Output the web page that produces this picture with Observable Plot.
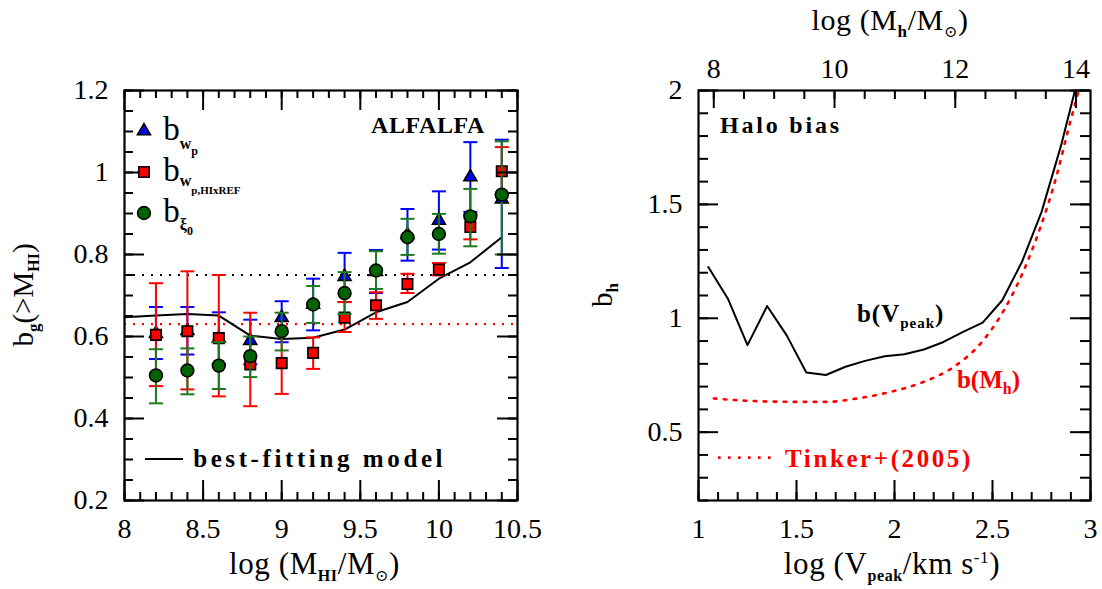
<!DOCTYPE html>
<html>
<head>
<meta charset="utf-8">
<script src="https://cdn.jsdelivr.net/npm/d3@7"></script>
<script src="https://cdn.jsdelivr.net/npm/@observablehq/plot@0.6"></script>
<style>
  body { margin: 0; background: #fff; }
  #wrap { position: relative; width: 1102px; height: 589px; overflow: hidden; }
  #left, #right { position: absolute; top: 0; }
  #left { left: 0; }
  #right { left: 551px; }
</style>
</head>
<body>
<div id="wrap"><div id="left"></div><div id="right"></div></div>
<script>
// ---------------- data: left panel ----------------
const logMHI = [8.2, 8.4, 8.6, 8.8, 9.0, 9.2, 9.4, 9.6, 9.8, 10.0, 10.2, 10.4];

const bWp    = [0.607, 0.614, 0.596, 0.590, 0.646, 0.678, 0.746, 0.758, 0.848, 0.883, 0.989, 0.935];
const bWpLo  = [0.545, 0.556, 0.533, 0.532, 0.586, 0.615, 0.684, 0.706, 0.785, 0.812, 0.904, 0.767];
const bWpHi  = [0.672, 0.672, 0.659, 0.641, 0.686, 0.741, 0.804, 0.811, 0.911, 0.954, 1.074, 1.080];

const bRef   = [0.604, 0.613, 0.596, 0.532, 0.535, 0.560, 0.646, 0.676, 0.728, 0.763, 0.867, 1.003];
const bRefLo = [0.479, 0.471, 0.454, 0.430, 0.460, 0.521, 0.611, 0.643, 0.706, 0.749, 0.837, 0.944];
const bRefHi = [0.730, 0.759, 0.750, 0.658, 0.610, 0.598, 0.684, 0.708, 0.753, 0.779, 0.897, 1.062];

const bXi    = [0.505, 0.517, 0.529, 0.552, 0.613, 0.678, 0.706, 0.761, 0.842, 0.850, 0.893, 0.946];
const bXiLo  = [0.437, 0.459, 0.472, 0.501, 0.566, 0.633, 0.655, 0.716, 0.799, 0.802, 0.820, 0.800];
const bXiHi  = [0.569, 0.571, 0.586, 0.600, 0.658, 0.723, 0.757, 0.808, 0.887, 0.899, 0.960, 1.076];

const fitX = [8.0, 8.2, 8.4, 8.6, 8.8, 9.0, 9.2, 9.4, 9.6, 9.8, 10.0, 10.2, 10.4];
const fitY = [0.647, 0.651, 0.655, 0.651, 0.602, 0.594, 0.597, 0.617, 0.659, 0.684, 0.741, 0.781, 0.842];

const refLevels = [0.75, 0.63]; // black dotted, red dotted

const leftXTicks = [8, 8.5, 9, 9.5, 10, 10.5];
const leftYTicks = [0.2, 0.4, 0.6, 0.8, 1, 1.2];

// ---------------- data: right panel ----------------
const vPeakX = [1.05, 1.15, 1.25, 1.35, 1.45, 1.55, 1.65, 1.75, 1.85, 1.95, 2.05, 2.15, 2.25, 2.35, 2.45, 2.55, 2.65, 2.75, 2.85, 2.95];
const vPeakB = [1.225, 1.086, 0.882, 1.054, 0.925, 0.762, 0.751, 0.787, 0.813, 0.833, 0.842, 0.863, 0.896, 0.940, 0.981, 1.079, 1.247, 1.466, 1.759, 2.100];

const tinkerX = [1.078, 1.299, 1.520, 1.656, 1.810, 1.980, 2.150, 2.303, 2.439, 2.558, 2.660, 2.745, 2.830, 2.881, 2.940];
const tinkerB = [0.648, 0.636, 0.633, 0.633, 0.648, 0.677, 0.721, 0.787, 0.889, 1.035, 1.211, 1.401, 1.635, 1.810, 2.000];

const rightXTicks = [1, 1.5, 2, 2.5, 3];
const rightYTicks = [0.5, 1, 1.5, 2];
const topMhTicks = [8, 10, 12, 14];
// where log(Mh)=8 and 14 sit on the log(Vpeak) axis
const topAxisMh = [8, 14];
const topAxisV  = [1.078, 2.926];

// ---------------- style ----------------
const FONT = "'Liberation Serif', 'DejaVu Serif', serif";
const BLUE = "#0000ff", RED = "#ff0000", GREEN_FILL = "#006400", GREEN_BAR = "#1d7a1d";
const W = 551, H = 589;
const TICKFONT = 28;
const capSymbol = { draw(ctx, size) { const w = Math.sqrt(size / Math.PI); ctx.moveTo(-w, 0); ctx.lineTo(w, 0); } };

function rng(a, b, s) { const out = []; for (let i = 0; a + i * s <= b + 1e-9; i++) out.push(+(a + i * s).toFixed(4)); return out; }

// inward ticks on a box; lengths are in pixels, converted to data units
function boxTicks(xDom, yDom, iw, ih, xMinor, xMajor, yMinor, yMajor, lens, opts = {}) {
  const [xs, xl, ys, yl] = lens;
  const dyPx = (yDom[1] - yDom[0]) / ih, dxPx = (xDom[1] - xDom[0]) / iw;
  const sw = 2;
  const m = [];
  const bottom = (vals, len) => Plot.ruleX(vals, {x: d => d, y1: yDom[0], y2: yDom[0] + len * dyPx, strokeWidth: sw});
  const top = (vals, len) => Plot.ruleX(vals, {x: d => d, y1: yDom[1], y2: yDom[1] - len * dyPx, strokeWidth: sw});
  const left = (vals, len) => Plot.ruleY(vals, {y: d => d, x1: xDom[0], x2: xDom[0] + len * dxPx, strokeWidth: sw});
  const right = (vals, len) => Plot.ruleY(vals, {y: d => d, x1: xDom[1], x2: xDom[1] - len * dxPx, strokeWidth: sw});
  m.push(bottom(xMinor, xs), bottom(xMajor, xl));
  if (!opts.noTop) m.push(top(xMinor, xs), top(xMajor, xl));
  m.push(left(yMinor, ys), left(yMajor, yl), right(yMinor, ys), right(yMajor, yl));
  if (opts.topMinor) m.push(top(opts.topMinor, opts.topLens[0]), top(opts.topMajor, opts.topLens[1]));
  return m;
}

function richText(svg, x, y, parts, opt = {}) {
  const {size = 26, anchor = "start", fill = "black", rotate = 0, weight = "normal", spacing = 0} = opt;
  const t = d3.select(svg).append("text")
    .attr("transform", `translate(${x},${y})` + (rotate ? ` rotate(${rotate})` : ""))
    .attr("text-anchor", anchor).attr("fill", fill)
    .attr("font-family", FONT).attr("font-size", size).attr("font-weight", weight)
    .attr("letter-spacing", spacing);
  let cur = 0;
  for (const p of parts) {
    const s = t.append("tspan").text(p.t);
    const sh = p.shift || 0;
    if (sh !== cur) { s.attr("dy", sh - cur); cur = sh; }
    if (p.size) s.attr("font-size", p.size);
    if (p.weight) s.attr("font-weight", p.weight);
    if (p.spacing !== undefined) s.attr("letter-spacing", p.spacing);
  }
  return t;
}

function linScale(plot, name) {
  const s = plot.scale(name);
  return d3.scaleLinear().domain(s.domain).range(s.range);
}

// ---------------- left panel ----------------
const rows = logMHI.map((m, i) => ({m, wp: bWp[i], wpLo: bWpLo[i], wpHi: bWpHi[i],
  ref: bRef[i], refLo: bRefLo[i], refHi: bRefHi[i], xi: bXi[i], xiLo: bXiLo[i], xiHi: bXiHi[i]}));
const fit = fitX.map((x, i) => ({x, y: fitY[i]}));

const LM = {top: 90, right: 34, bottom: 89, left: 124};
const liw = W - LM.left - LM.right, lih = H - LM.top - LM.bottom;
const LX = [8, 10.5], LY = [0.2, 1.2];

function errMarks(key, color, symbol, r, fill) {
  return [
    Plot.ruleX(rows, {x: "m", y1: key + "Lo", y2: key + "Hi", stroke: color, strokeWidth: 2}),
    Plot.dot(rows, {x: "m", y: key + "Lo", symbol: capSymbol, r: 7, stroke: color, fill: "none", strokeWidth: 2}),
    Plot.dot(rows, {x: "m", y: key + "Hi", symbol: capSymbol, r: 7, stroke: color, fill: "none", strokeWidth: 2}),
    Plot.dot(rows, {x: "m", y: key, symbol, r, fill, stroke: "black", strokeWidth: 1.6})
  ];
}

const leftPlot = Plot.plot({
  width: W, height: H,
  marginTop: LM.top, marginRight: LM.right, marginBottom: LM.bottom, marginLeft: LM.left,
  x: {domain: LX},
  y: {domain: LY},
  style: {fontFamily: FONT, fontSize: "26px", background: "white", color: "black", overflow: "visible"},
  marks: [
    Plot.ruleY([refLevels[0]], {y: d => d, stroke: "black", strokeWidth: 2.2, strokeDasharray: "2,7"}),
    Plot.ruleY([refLevels[1]], {y: d => d, stroke: RED, strokeWidth: 2.2, strokeDasharray: "2,7"}),
    Plot.line(fit, {x: "x", y: "y", stroke: "black", strokeWidth: 2}),
    ...errMarks("wp", BLUE, "triangle", 4.8, BLUE),
    ...errMarks("ref", RED, "square", 5.9, RED),
    ...errMarks("xi", GREEN_BAR, "circle", 6.4, GREEN_FILL),
    ...boxTicks(LX, LY, liw, lih, rng(8, 10.5, 0.1), leftXTicks, rng(0.2, 1.2, 0.05), leftYTicks, [8, 20, 9, 20]),
    Plot.frame({stroke: "black", strokeWidth: 2.2}),
    Plot.axisX({ticks: leftXTicks, tickSize: 0, tickPadding: 18, fontSize: TICKFONT, label: null, tickFormat: d => String(d)}),
    Plot.axisY({ticks: leftYTicks, tickSize: 0, tickPadding: 16, fontSize: TICKFONT, label: null, tickFormat: d => String(d)})
  ]
});
document.getElementById("left").appendChild(leftPlot);

{
  const sx = linScale(leftPlot, "x"), sy = linScale(leftPlot, "y");
  const svg = leftPlot;
  // axis labels
  richText(svg, LM.left + liw / 2 - 6, 574, [
    {t: "log (M"}, {t: "HI", shift: 7, size: 16, weight: "bold"}, {t: "/M", shift: 0}, {t: "⊙", shift: 7, size: 16}, {t: ")", shift: 0}
  ], {anchor: "middle", size: 31, spacing: 0.6});
  richText(svg, 33, LM.top + lih / 2, [
    {t: "b"}, {t: "g", shift: 6, size: 17, weight: "bold"}, {t: "(>M", shift: 0}, {t: "HI", shift: 6, size: 16, weight: "bold"}, {t: ")", shift: 0}
  ], {anchor: "middle", size: 29, rotate: -90});
  // ALFALFA
  richText(svg, sx(10.296), sy(1.095), [{t: "ALFALFA"}], {anchor: "end", size: 24, weight: "bold", spacing: 0.6});
  // legend
  const lx = sx(8.127), tx = sx(8.25);
  const g = d3.select(svg).append("g");
  const legendRows = [
    {y: 1.1, sym: d3.symbolTriangle, r: 4.8, fill: BLUE,
     parts: [{t: "b"}, {t: "w", shift: 9, size: 16, weight: "bold"}, {t: "p", shift: 15, size: 12, weight: "bold"}]},
    {y: 1.0, sym: d3.symbolSquare, r: 5.9, fill: RED,
     parts: [{t: "b"}, {t: "w", shift: 5, size: 16, weight: "bold"}, {t: "p,HIxREF", shift: 13, size: 11, weight: "bold"}]},
    {y: 0.9, sym: d3.symbolCircle, r: 6.4, fill: GREEN_FILL,
     parts: [{t: "b"}, {t: "ξ", shift: 8, size: 16, weight: "bold"}, {t: "0", shift: 13, size: 12, weight: "bold"}]}
  ];
  for (const row of legendRows) {
    g.append("path").attr("d", d3.symbol(row.sym, Math.PI * row.r * row.r)())
      .attr("transform", `translate(${lx},${sy(row.y)})`)
      .attr("fill", row.fill).attr("stroke", "black").attr("stroke-width", 1.6);
    richText(svg, tx, sy(row.y) + 9, row.parts, {size: 33});
  }
  // best-fitting model legend
  g.append("line").attr("x1", sx(8.134)).attr("x2", sx(8.375)).attr("y1", sy(0.3)).attr("y2", sy(0.3))
    .attr("stroke", "black").attr("stroke-width", 2);
  richText(svg, sx(8.44), sy(0.3) + 8, [{t: "best-fitting model"}], {size: 25, weight: "bold", spacing: 3.6});
}

// ---------------- right panel ----------------
const vpeak = vPeakX.map((x, i) => ({x, y: vPeakB[i]}));
const tinker = tinkerX.map((x, i) => ({x, y: tinkerB[i]}));
const mhToV = m => topAxisV[0] + (m - topAxisMh[0]) * (topAxisV[1] - topAxisV[0]) / (topAxisMh[1] - topAxisMh[0]);
const vToMh = v => topAxisMh[0] + (v - topAxisV[0]) * (topAxisMh[1] - topAxisMh[0]) / (topAxisV[1] - topAxisV[0]);

const RM = {top: 90, right: 12, bottom: 89, left: 147};
const riw = W - RM.left - RM.right, rih = H - RM.top - RM.bottom;
const RX = [1, 3], RY = [0.2, 2];

const rightPlot = Plot.plot({
  width: W, height: H,
  marginTop: RM.top, marginRight: RM.right, marginBottom: RM.bottom, marginLeft: RM.left,
  x: {domain: RX},
  y: {domain: RY},
  style: {fontFamily: FONT, fontSize: "26px", background: "white", color: "black", overflow: "visible"},
  marks: [
    Plot.line(tinker, {x: "x", y: "y", stroke: RED, strokeWidth: 2.6, strokeDasharray: "2.6,7.4", curve: "monotone-x", clip: true}),
    Plot.line(vpeak, {x: "x", y: "y", stroke: "black", strokeWidth: 2, clip: true}),
    ...boxTicks(RX, RY, riw, rih, rng(1, 3, 0.1), rightXTicks, rng(0.2, 2, 0.1), rightYTicks, [8, 20, 10, 20],
      {noTop: true, topMinor: rng(8, 14, 0.5).map(mhToV), topMajor: topMhTicks.map(mhToV), topLens: [9, 18]}),
    Plot.frame({stroke: "black", strokeWidth: 2.2}),
    Plot.axisX({ticks: rightXTicks, tickSize: 0, tickPadding: 18, fontSize: TICKFONT, label: null, tickFormat: d => String(d)}),
    Plot.axisX({anchor: "top", ticks: topMhTicks.map(mhToV), tickSize: 0, tickPadding: 13, fontSize: TICKFONT, label: null,
      tickFormat: d => String(Math.round(vToMh(d)))}),
    Plot.axisY({ticks: rightYTicks, tickSize: 0, tickPadding: 16, fontSize: TICKFONT, label: null, tickFormat: d => String(d)})
  ]
});
document.getElementById("right").appendChild(rightPlot);

{
  const sx = linScale(rightPlot, "x"), sy = linScale(rightPlot, "y");
  const svg = rightPlot;
  richText(svg, RM.left + riw / 2 - 2, 574, [
    {t: "log (V"}, {t: "peak", shift: 7, size: 16, weight: "bold"}, {t: "/km s", shift: 0}, {t: "-1", shift: -11, size: 17}, {t: ")", shift: 0}
  ], {anchor: "middle", size: 31, spacing: 0.6});
  richText(svg, RM.left + riw / 2 - 4, 30, [
    {t: "log (M"}, {t: "h", shift: 7, size: 17, weight: "bold"}, {t: "/M", shift: 0}, {t: "⊙", shift: 7, size: 16}, {t: ")", shift: 0}
  ], {anchor: "middle", size: 30, spacing: 0.6});
  richText(svg, 61, RM.top + rih / 2, [
    {t: "b"}, {t: "h", shift: 6, size: 17, weight: "bold"}
  ], {anchor: "middle", size: 29, rotate: -90});
  richText(svg, sx(1.112), sy(1.811), [{t: "Halo bias"}], {size: 24, weight: "bold", spacing: 2.8});
  richText(svg, sx(1.811), sy(0.982), [
    {t: "b(V"}, {t: "peak", shift: 6, size: 15, weight: "bold"}, {t: ")", shift: 0}
  ], {size: 25, weight: "bold", spacing: 1});
  richText(svg, sx(2.321), sy(0.693), [
    {t: "b(M"}, {t: "h", shift: 6, size: 16, weight: "bold"}, {t: ")", shift: 0}
  ], {size: 25, weight: "bold", fill: RED, spacing: 0});
  d3.select(svg).append("line").attr("x1", sx(1.102)).attr("x2", sx(1.383)).attr("y1", sy(0.386)).attr("y2", sy(0.386))
    .attr("stroke", RED).attr("stroke-width", 2.6).attr("stroke-dasharray", "2.6,7.4");
  richText(svg, sx(1.444), sy(0.346), [{t: "Tinker+(2005)"}], {size: 25, weight: "bold", fill: RED, spacing: 2.6});
}
</script>
</body>
</html>
